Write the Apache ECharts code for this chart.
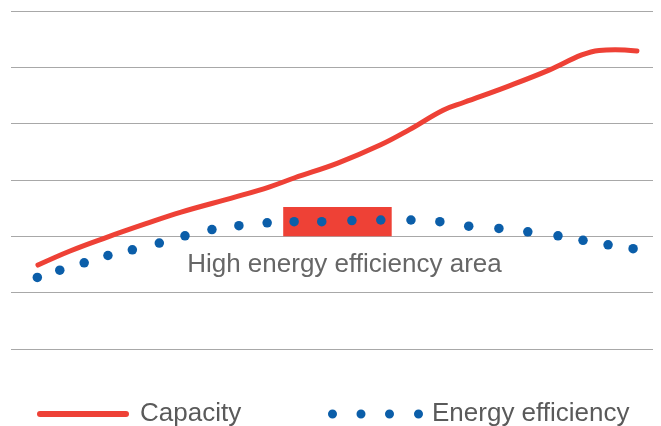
<!DOCTYPE html>
<html>
<head>
<meta charset="utf-8">
<script src="https://cdn.jsdelivr.net/npm/echarts@6/dist/echarts.min.js"></script>
<style>
  html, body { margin: 0; padding: 0; background: #fff; }
  #main { width: 661px; height: 426px; }
</style>
</head>
<body>
<div id="main"></div>
<script>
  // capacity curve (x: load, y: relative value)
  var capX = [4.2, 9.2, 14.6, 20.9, 26.5, 35.0, 40.3, 44.2, 50.9, 57.5, 62.0, 67.3, 70.6, 77.1, 83.8, 88.9, 91.6, 94.1, 97.5];
  var capY = [1.49, 1.74, 1.97, 2.22, 2.43, 2.70, 2.88, 3.04, 3.30, 3.62, 3.89, 4.24, 4.38, 4.65, 4.95, 5.22, 5.30, 5.31, 5.29];

  // energy efficiency dots
  var effX = [4.1, 7.6, 11.4, 15.1, 18.9, 23.1, 27.1, 31.3, 35.5, 39.9, 44.1, 48.4, 53.1, 57.6, 62.3, 66.8, 71.3, 76.0, 80.5, 85.2, 89.1, 93.0, 96.9];
  var effY = [1.27, 1.40, 1.53, 1.66, 1.76, 1.88, 2.01, 2.12, 2.19, 2.24, 2.26, 2.26, 2.28, 2.29, 2.29, 2.26, 2.18, 2.14, 2.08, 2.01, 1.93, 1.85, 1.78];

  // high efficiency area [x0, x1], [y0, y1]
  var areaX = [42.4, 59.3];
  var areaY = [2.0, 2.52];
  var areaText = 'High energy efficiency area';

  var red = '#ee4136';
  var blue = '#0b5ea9';
  var font = '"Liberation Sans", Arial, sans-serif';

  function pairs(xs, ys) {
    var out = [];
    for (var i = 0; i < xs.length; i++) out.push([xs[i], ys[i]]);
    return out;
  }

  var dotsIcon = 'path://M0,4.5a4.5,4.5 0 1,0 9,0a4.5,4.5 0 1,0 -9,0Z' +
    'M28.5,4.5a4.5,4.5 0 1,0 9,0a4.5,4.5 0 1,0 -9,0Z' +
    'M57,4.5a4.5,4.5 0 1,0 9,0a4.5,4.5 0 1,0 -9,0Z' +
    'M86,4.5a4.5,4.5 0 1,0 9,0a4.5,4.5 0 1,0 -9,0Z';
  var lineIcon = 'path://M3,0H89A3,3 0 0 1 89,6H3A3,3 0 0 1 3,0Z';

  var chart = echarts.init(document.getElementById('main'));
  chart.setOption({
    animation: false,
    textStyle: { fontFamily: font },
    grid: { left: 11, right: 8, top: 11, bottom: 77 },
    xAxis: {
      type: 'value', min: 0, max: 100,
      axisLine: { show: false }, axisTick: { show: false },
      axisLabel: { show: false }, splitLine: { show: false }
    },
    yAxis: {
      type: 'value', min: 0, max: 6, interval: 1,
      axisLine: { show: false }, axisTick: { show: false },
      axisLabel: { show: false },
      splitLine: { lineStyle: { color: '#a8a8a8', width: 1 } }
    },
    legend: [
      {
        data: [{ name: 'Capacity', icon: lineIcon }],
        left: 37, top: 401, padding: 0,
        itemWidth: 92, itemHeight: 6,
        itemStyle: { color: red, opacity: 1 },
        textStyle: { fontSize: 26, color: '#5a5a5a', fontFamily: font, padding: [0, 0, 0, 6] }
      },
      {
        data: [{ name: 'Energy efficiency', icon: dotsIcon }],
        left: 328, top: 401, padding: 0,
        itemWidth: 95, itemHeight: 9,
        itemStyle: { color: blue, opacity: 1 },
        textStyle: { fontSize: 26, color: '#5a5a5a', fontFamily: font, padding: [0, 0, 0, 4] }
      }
    ],
    series: [
      {
        name: 'Capacity',
        type: 'line',
        z: 1,
        data: pairs(capX, capY),
        smooth: 0.4,
        showSymbol: false,
        symbol: 'none',
        itemStyle: { color: red },
        lineStyle: { color: red, width: 5, cap: 'round' },
        markArea: {
          silent: true,
          itemStyle: { color: red, opacity: 1 },
          label: {
            show: true,
            position: 'bottom',
            distance: 15,
            offset: [7, 0],
            color: '#666',
            fontSize: 26,
            fontFamily: font
          },
          data: [[
            { name: areaText, coord: [areaX[0], areaY[1]] },
            { coord: [areaX[1], areaY[0]] }
          ]]
        }
      },
      {
        name: 'Energy efficiency',
        type: 'scatter',
        z: 3,
        data: pairs(effX, effY),
        symbolSize: 9.5,
        itemStyle: { color: blue, opacity: 1 }
      }
    ]
  });
</script>
</body>
</html>
